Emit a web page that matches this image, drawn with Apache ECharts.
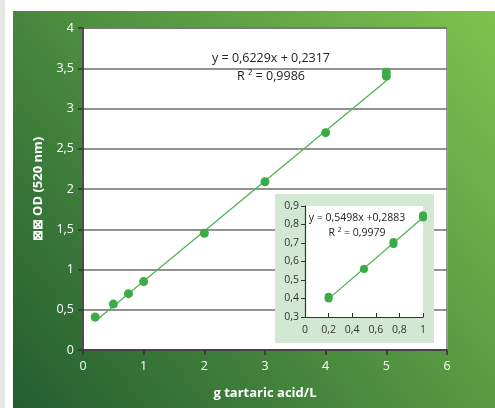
<!DOCTYPE html>
<html><head><meta charset="utf-8">
<script src="https://cdn.jsdelivr.net/npm/echarts@6/dist/echarts.min.js"></script>
<style>html,body{margin:0;padding:0;background:#fff}#c{width:495px;height:408px}</style>
</head><body><div id="c"></div>
<script>
// Main chart data
var mainX = [0.2, 0.5, 0.75, 1, 2, 3, 4, 5, 5];
var mainY = [0.41, 0.57, 0.70, 0.85, 1.45, 2.09, 2.70, 3.40, 3.45];
var mainTrendX = [0.2, 5];
var mainTrendY = [0.356, 3.346];
// Inset data
var insetX = [0.2, 0.2, 0.5, 0.75, 0.75, 1, 1];
var insetY = [0.40, 0.41, 0.56, 0.695, 0.705, 0.838, 0.85];
var insetTrendX = [0.2, 1];
var insetTrendY = [0.398, 0.838];
// Texts
var mainEq = 'y = 0,6229x + 0,2317';
var mainR2 = 'R ² = 0,9986';
var insetEq = 'y = 0,5498x +0,2883';
var insetR2 = 'R ² = 0,9979';
var xName = 'g tartaric acid/L';
var yName = '⊠⊠ OD (520 nm)';

function zip(a, b) { return a.map(function (v, i) { return [v, b[i]]; }); }
function comma(v) { return String(Math.round(v * 100) / 100).replace('.', ','); }

var FONT = '"Open Sans", "Noto Sans", sans-serif';
var chart = echarts.init(document.getElementById('c'), null, {renderer: 'canvas'});
chart.setOption({
  animation: false,
  graphic: [
    {type: 'rect', z: -20, shape: {x: 0, y: 0, width: 5, height: 408}, style: {fill: '#e6e6e6'}},
    {type: 'rect', z: -19, shape: {x: 13, y: 11, width: 482, height: 397},
      style: {fill: new echarts.graphic.LinearGradient(1, 0, 0, 1, [
        {offset: 0, color: '#80c24e'}, {offset: 0.5, color: '#4f9140'}, {offset: 1, color: '#225e31'}])}},
    {type: 'rect', z: 5, shape: {x: 275, y: 194, width: 159, height: 149}, style: {fill: '#d3e8d3'}},
    {type: 'text', z: 4, x: 271, y: 58, style: {text: mainEq, fill: '#222', font: '12.5px ' + FONT, textAlign: 'center', textVerticalAlign: 'middle'}},
    {type: 'text', z: 4, x: 271, y: 76, style: {text: mainR2, fill: '#222', font: '12.5px ' + FONT, textAlign: 'center', textVerticalAlign: 'middle'}},
    {type: 'text', z: 9, x: 357, y: 218, style: {text: insetEq, fill: '#222', font: '10.5px ' + FONT, textAlign: 'center', textVerticalAlign: 'middle'}},
    {type: 'text', z: 9, x: 357, y: 233, style: {text: insetR2, fill: '#222', font: '10.5px ' + FONT, textAlign: 'center', textVerticalAlign: 'middle'}}
  ],
  grid: [
    {left: 83, top: 28, width: 364, height: 322, show: true, backgroundColor: '#fff', borderColor: '#9a9a9a', borderWidth: 2, z: 0},
    {left: 305, top: 206, width: 118, height: 111, show: true, backgroundColor: '#fff', borderWidth: 0, z: 6}
  ],
  xAxis: [
    {gridIndex: 0, type: 'value', min: 0, max: 6, interval: 1, z: 1,
      name: xName, nameLocation: 'middle', nameGap: 37,
      nameTextStyle: {color: '#fff', fontSize: 13, fontWeight: 'bold', fontFamily: FONT},
      axisLine: {show: true, onZero: false, lineStyle: {color: '#333', width: 1.5}},
      axisTick: {show: true, inside: false, length: 5, lineStyle: {color: '#333', width: 1.5}},
      axisLabel: {color: '#fff', fontSize: 12.5, fontFamily: FONT, margin: 10, formatter: comma},
      splitLine: {show: false}},
    {gridIndex: 1, type: 'value', min: 0, max: 1, interval: 0.2, z: 7,
      axisLine: {show: true, onZero: false, lineStyle: {color: '#333', width: 1.2}},
      axisTick: {show: true, inside: true, length: 4, lineStyle: {color: '#333'}},
      axisLabel: {color: '#333', fontSize: 10.5, fontFamily: FONT, margin: 8, formatter: comma},
      splitLine: {show: false}}
  ],
  yAxis: [
    {gridIndex: 0, type: 'value', min: 0, max: 4, interval: 0.5, z: 1,
      name: yName, nameLocation: 'middle', nameGap: 38,
      nameTextStyle: {color: '#fff', fontSize: 13, fontWeight: 'bold', fontFamily: FONT},
      axisLine: {show: true, onZero: false, lineStyle: {color: '#333', width: 1.5}},
      axisTick: {show: true, inside: false, length: 5, lineStyle: {color: '#333', width: 1.5}},
      axisLabel: {color: '#fff', fontSize: 12.5, fontFamily: FONT, margin: 9, formatter: comma},
      splitLine: {show: true, lineStyle: {color: '#6e6e6e', width: 1.5}}},
    {gridIndex: 1, type: 'value', min: 0.3, max: 0.9, interval: 0.1, z: 7,
      axisLine: {show: true, onZero: false, lineStyle: {color: '#333', width: 1.2}},
      axisTick: {show: true, inside: false, length: 4, lineStyle: {color: '#333'}},
      axisLabel: {color: '#333', fontSize: 10.5, fontFamily: FONT, margin: 6, formatter: comma},
      splitLine: {show: false}}
  ],
  series: [
    {type: 'line', xAxisIndex: 0, yAxisIndex: 0, z: 2, data: zip(mainTrendX, mainTrendY), symbol: 'none',
      lineStyle: {color: '#4db452', width: 1.3}},
    {type: 'scatter', xAxisIndex: 0, yAxisIndex: 0, z: 3, data: zip(mainX, mainY), symbolSize: 9,
      itemStyle: {color: '#3bab48', opacity: 1}},
    {type: 'line', xAxisIndex: 1, yAxisIndex: 1, z: 8, data: zip(insetTrendX, insetTrendY), symbol: 'none',
      lineStyle: {color: '#4db452', width: 1.3}},
    {type: 'scatter', xAxisIndex: 1, yAxisIndex: 1, z: 8, data: zip(insetX, insetY), symbolSize: 8,
      itemStyle: {color: '#3bab48', opacity: 1}}
  ]
});
</script></body></html>
